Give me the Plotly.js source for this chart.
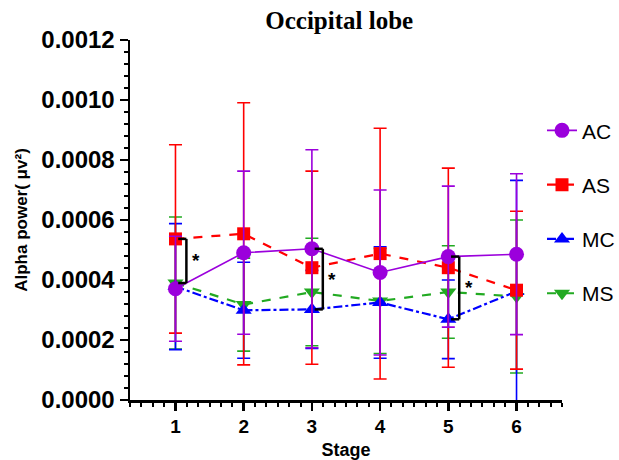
<!DOCTYPE html>
<html>
<head>
<meta charset="utf-8">
<script src="https://cdn.plot.ly/plotly-3.0.1.min.js"></script>
<style>body{margin:0;background:#fff}#chart{width:619px;height:460px}</style>
</head>
<body>
<div id="chart"></div>
<script>
const stages = [1, 2, 3, 4, 5, 6];
const seriesNames = ['AC', 'AS', 'MC', 'MS'];
const acMean = [0.000371, 0.000491, 0.000504, 0.000425, 0.000478, 0.000486];
const acErr  = [0.000175, 0.000272, 0.000330, 0.000275, 0.000235, 0.000268];
const asMean = [0.000537, 0.000554, 0.000441, 0.000488, 0.000441, 0.000366];
const asErr  = [0.000314, 0.000437, 0.000322, 0.000418, 0.000332, 0.000263];
const mcMean = [0.000378, 0.000299, 0.000302, 0.000325, 0.000269, 0.000362];
const mcErr  = [0.000210, 0.000160, 0.000130, 0.000186, 0.000131, 0.000370];
const msMean = [0.000390, 0.000318, 0.000360, 0.000330, 0.000360, 0.000345];
const msErr  = [0.000220, 0.000155, 0.000179, 0.000175, 0.000154, 0.000255];
const yTickVals = [0, 0.0002, 0.0004, 0.0006, 0.0008, 0.0010, 0.0012];
const yTickText = ['0.0000', '0.0002', '0.0004', '0.0006', '0.0008', '0.0010', '0.0012'];
// significance brackets: stage, upper value, lower value
const sigStage = [1, 3, 5];
const sigTop = [0.000537, 0.000504, 0.000478];
const sigBottom = [0.000390, 0.000302, 0.000269];
const sigLabel = ['*', '*', '*'];

const colors = {AC: '#9b00dc', AS: '#ff0000', MC: '#0000ff', MS: '#22aa22'};

function mk(name, y, err, symbol, dash, size, rank, lw) {
  return {
    x: stages, y: y, name: name, type: 'scatter', mode: 'lines+markers',
    legendgroup: name, legendrank: rank,
    line: {color: colors[name], width: lw, dash: dash},
    marker: {color: colors[name], symbol: symbol, size: size},
    error_y: {type: 'data', array: err, visible: true, color: colors[name], thickness: 1.6, width: 6.5}
  };
}

const data = [
  mk('MS', msMean, msErr, 'triangle-down', 'dash', 14, 4, 2.2),
  mk('MC', mcMean, mcErr, 'triangle-up', 'dashdot', 14, 3, 2.2),
  mk('AS', asMean, asErr, 'square', 'dash', 13, 2, 2.2),
  mk('AC', acMean, acErr, 'circle', 'solid', 15, 1, 1.6)
];

const shapes = [];
const annotations = [];
sigStage.forEach((s, i) => {
  const xv = s + 0.16, xl = s + 0.04;
  const ln = {type: 'line', xref: 'x', yref: 'y', line: {color: '#000', width: 2.5}};
  shapes.push(Object.assign({}, ln, {x0: xv, x1: xv, y0: sigBottom[i], y1: sigTop[i]}));
  shapes.push(Object.assign({}, ln, {x0: xl, x1: xv, y0: sigTop[i], y1: sigTop[i]}));
  shapes.push(Object.assign({}, ln, {x0: xl, x1: xv, y0: sigBottom[i], y1: sigBottom[i]}));
  annotations.push({x: s + 0.3, y: (sigTop[i] + sigBottom[i]) / 2, xref: 'x', yref: 'y',
    text: '<b>' + sigLabel[i] + '</b>', showarrow: false, font: {family: 'Liberation Sans, Arial', size: 19, color: '#000'}});
});

const layout = {
  width: 619, height: 460,
  margin: {l: 130, r: 57, t: 40, b: 60, autoexpand: false},
  paper_bgcolor: '#fff', plot_bgcolor: '#fff',
  title: {text: '<b>Occipital lobe</b>', x: 0.548, xanchor: 'center', y: 0.955, yanchor: 'middle',
    font: {family: 'Liberation Serif, Times New Roman', size: 25, color: '#000'}},
  showlegend: true,
  legend: {xref: 'container', x: 0.8756, xanchor: 'left', yref: 'paper', y: 0.805, yanchor: 'top', bgcolor: 'rgba(0,0,0,0)',
    font: {family: 'Liberation Sans, Arial', size: 21, color: '#000'},
    tracegroupgap: 24, traceorder: 'grouped', itemwidth: 30},
  xaxis: {
    range: [1 - 4/6, 6 + 4/6], tickvals: stages, ticktext: stages.map(String),
    showgrid: false, zeroline: false, showline: true, linecolor: '#000', linewidth: 2.5,
    ticks: 'outside', ticklen: 8, tickwidth: 2.5, tickcolor: '#000',
    minor: {dtick: 1/6, tick0: 0, ticks: 'outside', ticklen: 4, tickwidth: 2, tickcolor: '#000', showgrid: false},
    tickfont: {family: 'Liberation Sans, Arial', size: 19, color: '#000', weight: 'bold'},
    title: {text: '<b>Stage</b>', standoff: 8, font: {family: 'Liberation Sans, Arial', size: 18, color: '#000'}}
  },
  yaxis: {
    range: [0, 0.0012], tickvals: yTickVals, ticktext: yTickText,
    showgrid: false, zeroline: false, showline: true, linecolor: '#000', linewidth: 2.5,
    ticks: 'outside', ticklen: 8, tickwidth: 2.5, tickcolor: '#000',
    minor: {dtick: 0.00004, tick0: 0, ticks: 'outside', ticklen: 4, tickwidth: 2, tickcolor: '#000', showgrid: false},
    tickfont: {family: 'Liberation Sans, Arial', size: 24, color: '#000', weight: 'bold'},
    title: {text: '<b>Alpha power( μv²)</b>', standoff: 10, font: {family: 'Liberation Sans, Arial', size: 17, color: '#000'}}
  },
  shapes: shapes,
  annotations: annotations
};

Plotly.newPlot('chart', data, layout, {displayModeBar: false, staticPlot: true});
</script>
</body>
</html>
